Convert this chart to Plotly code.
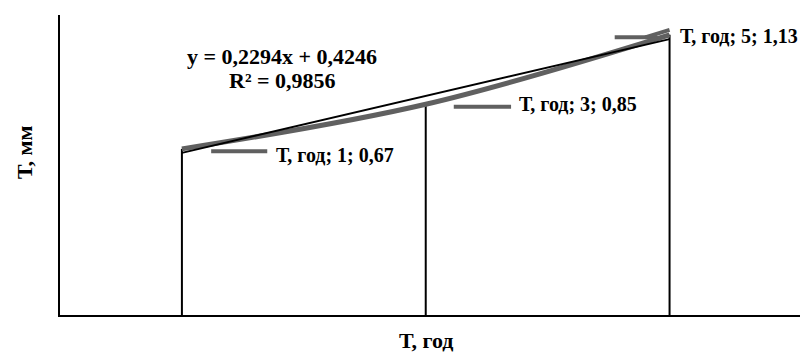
import plotly.graph_objects as go

# Data
categories = ["1", "3", "5"]
values = [0.67, 0.85, 1.13]
series_name = "Т, год"
x_title = "Т, год"
y_title = "Т, мм"
slope, intercept = 0.2294, 0.4246
r2 = 0.9856

xs = list(range(len(categories)))
SERIF = "Liberation Serif"
LABEL_FONT = dict(family=SERIF, size=20, color="black")
EQ_FONT = dict(family=SERIF, size=22, color="black")
TITLE_FONT = dict(family=SERIF, size=22, color="black")
GRAY = "#606060"


def comma(v):
    return str(v).replace(".", ",")


fig = go.Figure()

# Drop lines from each point down to the x axis
for x, v in zip(xs, values):
    fig.add_trace(go.Scatter(x=[x, x], y=[0, v], mode="lines",
                             line=dict(color="black", width=2),
                             hoverinfo="skip", showlegend=False))

# Smoothed series line
fig.add_trace(go.Scatter(x=xs, y=values, mode="lines", line_shape="spline",
                         line=dict(color=GRAY, width=5),
                         name=series_name, showlegend=False))

# Linear trend line (x counted from 1 for the first category)
tx = [xs[0], xs[-1]]
ty = [slope * (x + 1) + intercept for x in tx]
fig.add_trace(go.Scatter(x=tx, y=ty, mode="lines",
                         line=dict(color="black", width=2),
                         hoverinfo="skip", showlegend=False))

# Data labels with short leader lines: (leader start, leader end, text x, text y shift)
label_offsets = [(0.12, 0.35, 0.378, -6), (0.115, 0.35, 0.374, 0), (-0.225, -0.05, 0.033, -1)]
for x, v, c, (a, b, t, ys) in zip(xs, values, categories, label_offsets):
    fig.add_shape(type="line", x0=x + a, x1=x + b, y0=v - 0.01, y1=v - 0.01,
                  line=dict(color=GRAY, width=4))
    fig.add_annotation(x=x + t, y=v, yshift=ys, text=f"<b>{series_name}; {c}; {comma(v)}</b>",
                       showarrow=False, xanchor="left", yanchor="middle", font=LABEL_FONT)
# last label's leader bends up to its point
fig.add_shape(type="line", x0=xs[-1] - 0.1, x1=xs[-1], y0=values[-1] - 0.01, y1=values[-1] + 0.02,
              line=dict(color=GRAY, width=4))

# Trend equation
fig.add_annotation(x=0.412, y=1.044, text=f"<b>y = {comma(slope)}x + {comma(intercept)}</b>",
                   showarrow=False, xanchor="center", yanchor="middle", font=EQ_FONT)
fig.add_annotation(x=0.412, y=0.944, text=f"<b>R² = {comma(r2)}</b>",
                   showarrow=False, xanchor="center", yanchor="middle", font=EQ_FONT)

# Axis titles
fig.add_annotation(xref="paper", yref="paper", x=(426 - 60) / 740, y=-(340 - 315) / 300,
                   text=f"<b>{x_title}</b>", showarrow=False, xanchor="center", yanchor="middle",
                   font=TITLE_FONT)
fig.add_annotation(xref="paper", yref="paper", x=-(60 - 24) / 740, y=(315 - 153) / 300,
                   text=f"<b>{y_title}</b>", textangle=-90, showarrow=False,
                   xanchor="center", yanchor="middle", font=TITLE_FONT)

fig.update_layout(
    width=806, height=353,
    margin=dict(l=60, r=6, t=15, b=38),
    paper_bgcolor="white", plot_bgcolor="white",
    font=LABEL_FONT,
)
fig.update_xaxes(range=[-0.5, 2.535], showgrid=False, zeroline=False,
                 showline=True, linecolor="black", linewidth=2,
                 showticklabels=False, ticks="")
fig.update_yaxes(range=[0, 1.21], showgrid=False, zeroline=False,
                 showline=True, linecolor="black", linewidth=2,
                 showticklabels=False, ticks="")

fig.write_html("out.html")
